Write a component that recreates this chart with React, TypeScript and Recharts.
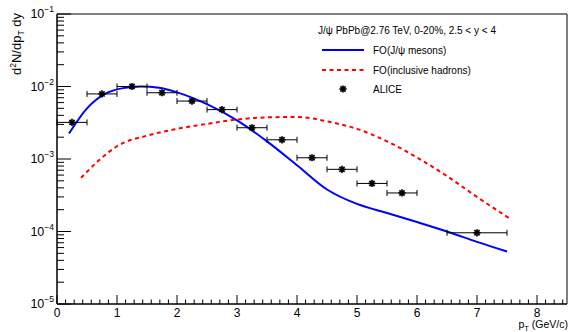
import { ComposedChart, Line, Scatter, XAxis, YAxis, ErrorBar, ReferenceArea, Legend, Customized } from "recharts";

const FONT = "'Liberation Sans', Arial, Helvetica, sans-serif";

// ALICE J/psi, PbPb 2.76 TeV 0-20%
const alicePt = [0.25, 0.75, 1.25, 1.75, 2.25, 2.75, 3.25, 3.75, 4.25, 4.75, 5.25, 5.75, 7.0];
const aliceYield = [3.2e-3, 7.9e-3, 1.0e-2, 8.2e-3, 6.3e-3, 4.8e-3, 2.7e-3, 1.84e-3, 1.04e-3, 7.2e-4, 4.6e-4, 3.4e-4, 9.6e-5];
const alicePtErr = [0.25, 0.25, 0.25, 0.25, 0.25, 0.25, 0.25, 0.25, 0.25, 0.25, 0.25, 0.25, 0.5];

// FO (J/psi mesons)
const jpsiPt = [0.2, 0.5, 0.8, 1.1, 1.4, 1.7, 2.0, 2.5, 3.0, 3.5, 4.0, 4.5, 5.0, 5.5, 6.0, 6.5, 7.0, 7.5];
const jpsiYield = [2.25e-3, 5.0e-3, 7.9e-3, 9.5e-3, 1.0e-2, 9.6e-3, 8.3e-3, 5.7e-3, 3.4e-3, 1.75e-3, 8.2e-4, 3.8e-4, 2.4e-4, 1.8e-4, 1.35e-4, 1.0e-4, 7.2e-5, 5.3e-5];

// FO (inclusive hadrons)
const hadPt = [0.4, 0.7, 1.0, 1.5, 2.0, 2.5, 3.0, 3.5, 4.0, 4.5, 5.0, 5.5, 6.0, 6.5, 7.0, 7.55];
const hadYield = [5.5e-4, 9.6e-4, 1.5e-3, 2.1e-3, 2.6e-3, 3.05e-3, 3.5e-3, 3.75e-3, 3.8e-3, 3.3e-3, 2.6e-3, 1.75e-3, 1.05e-3, 5.8e-4, 3.0e-4, 1.5e-4];

const xTickLabels = ["0", "1", "2", "3", "4", "5", "6", "7", "8"];
const yDecades = [-5, -4, -3, -2, -1];

const aliceData = alicePt.map((pt, i) => ({ pt, y: aliceYield[i], xerr: alicePtErr[i] }));
const jpsiData = jpsiPt.map((pt, i) => ({ pt, y: jpsiYield[i] }));
const hadData = hadPt.map((pt, i) => ({ pt, y: hadYield[i] }));

// ROOT-style divisions: 7 per unit on x, 2..9 on each log decade
const xTicks: number[] = [];
for (let k = 0; k <= 59; k++) xTicks.push(k / 7);
const yTicks: number[] = [];
yDecades.forEach((d) => {
  if (d === -1) {
    yTicks.push(0.1);
    return;
  }
  for (let m = 1; m <= 9; m++) yTicks.push(Number((m * Math.pow(10, d)).toPrecision(6)));
});

function XTick(props: any) {
  const { x, y, payload } = props;
  const v = payload.value;
  const major = Math.abs(v - Math.round(v)) < 1e-6;
  return (
    <g>
      <line x1={x} x2={x} y1={y} y2={y - (major ? 9 : 4.5)} stroke="#000" strokeWidth={1} />
      {major && (
        <text x={x} y={y + 12.5} textAnchor="middle" fontSize={12} fontFamily={FONT} fill="#000">
          {xTickLabels[Math.round(v)]}
        </text>
      )}
    </g>
  );
}

function YTick(props: any) {
  const { x, y, payload } = props;
  const lg = Math.log10(payload.value);
  const major = Math.abs(lg - Math.round(lg)) < 1e-6;
  return (
    <g>
      <line x1={x} x2={x + (major ? 14 : 7)} y1={y} y2={y} stroke="#000" strokeWidth={1} />
      {major && (
        <text x={x - 3} y={y + 4} textAnchor="end" fontSize={12.5} fontFamily={FONT} fill="#000">
          10
          <tspan dy={-6} fontSize={8.5}>
            {"\u2212" + Math.abs(Math.round(lg))}
          </tspan>
        </text>
      )}
    </g>
  );
}

function Star(props: any) {
  const { cx, cy } = props;
  const r = 3.6;
  const d = r * 0.72;
  return (
    <g stroke="#000" strokeWidth={1.7}>
      <line x1={cx - r} x2={cx + r} y1={cy} y2={cy} />
      <line x1={cx} x2={cx} y1={cy - r} y2={cy + r} />
      <line x1={cx - d} x2={cx + d} y1={cy - d} y2={cy + d} />
      <line x1={cx - d} x2={cx + d} y1={cy + d} y2={cy - d} />
    </g>
  );
}

function LegendBox() {
  return (
    <svg width={255} height={85} style={{ display: "block" }}>
      <g fontFamily={FONT} fontSize={10} fill="#000">
        <text x={10} y={16}>J/ψ PbPb@2.76 TeV, 0-20%, 2.5 &lt; y &lt; 4</text>
        <line x1={14} x2={56} y1={32} y2={32} stroke="#0000ff" strokeWidth={2} />
        <text x={65} y={35.5}>FO(J/ψ mesons)</text>
        <line x1={14} x2={56} y1={52} y2={52} stroke="#ff0000" strokeWidth={2} strokeDasharray="4 3.5" />
        <text x={65} y={55.5}>FO(inclusive hadrons)</text>
        <Star cx={35} cy={71} />
        <text x={65} y={74.5}>ALICE</text>
      </g>
    </svg>
  );
}

function Titles() {
  return (
    <g fontFamily={FONT} fill="#000">
      <text x={21} y={13} transform="rotate(-90, 21, 13)" textAnchor="end" fontSize={13}>
        d<tspan dy={-5} fontSize={8.5}>2</tspan>
        <tspan dy={5}>N/dp</tspan>
        <tspan dy={3} fontSize={8.5}>T</tspan>
        <tspan dy={-3}> dy</tspan>
      </text>
      <text x={568} y={328} textAnchor="end" fontSize={10.5}>
        p<tspan dy={2.5} fontSize={7.5}>T</tspan>
        <tspan dy={-2.5}> (GeV/c)</tspan>
      </text>
    </g>
  );
}

export default function App() {
  return (
    <div style={{ width: 574, height: 332, background: "#fff" }}>
      <style>{"body{margin:0}"}</style>
      <ComposedChart width={574} height={332} margin={{ top: 14, right: 7, left: 0, bottom: 0 }}>
        <XAxis
          dataKey="pt"
          type="number"
          domain={[0, 8.5]}
          ticks={xTicks}
          interval={0}
          tickSize={0}
          tickMargin={0}
          height={28}
          allowDataOverflow
          axisLine={{ stroke: "#000", strokeWidth: 1 }}
          tick={(p: any) => <XTick {...p} />}
        />
        <YAxis
          type="number"
          scale="log"
          domain={[1e-5, 1e-1]}
          ticks={yTicks}
          interval={0}
          tickSize={0}
          tickMargin={0}
          width={57}
          allowDataOverflow
          axisLine={{ stroke: "#000", strokeWidth: 1 }}
          tick={(p: any) => <YTick {...p} />}
        />
        <ReferenceArea x1={0} x2={8.5} y1={1e-5} y2={1e-1} fill="none" stroke="#000" strokeWidth={1} ifOverflow="visible" />
        <Line
          data={jpsiData}
          dataKey="y"
          type="monotone"
          stroke="#0000ff"
          strokeWidth={2}
          dot={false}
          isAnimationActive={false}
        />
        <Line
          data={hadData}
          dataKey="y"
          type="monotone"
          stroke="#ff0000"
          strokeWidth={2}
          strokeDasharray="4 3.5"
          dot={false}
          isAnimationActive={false}
        />
        <Scatter data={aliceData} dataKey="y" shape={Star} isAnimationActive={false}>
          <ErrorBar dataKey="xerr" direction="x" width={3} stroke="#000" strokeWidth={1} />
        </Scatter>
        <Legend
          layout="vertical"
          align="center"
          verticalAlign="middle"
          wrapperStyle={{ left: 308, top: 18, width: 255, height: 85 }}
          content={() => <LegendBox />}
        />
        <Customized component={Titles} />
      </ComposedChart>
    </div>
  );
}
